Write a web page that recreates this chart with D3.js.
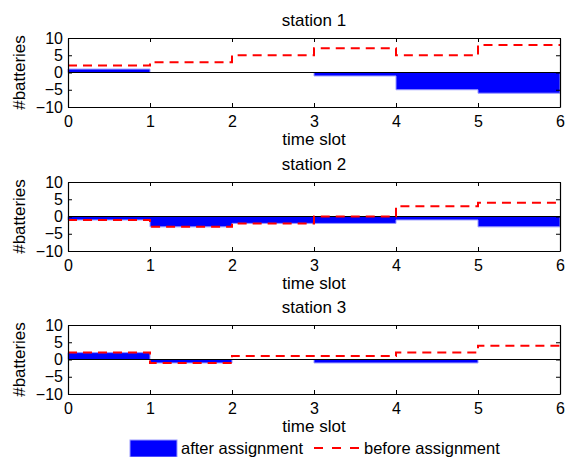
<!DOCTYPE html>
<html>
<head>
<meta charset="utf-8">
<script src="https://cdn.jsdelivr.net/npm/d3@7"></script>
<style>
  body { margin: 0; background: #fff; }
  svg { font-family: "Liberation Sans", Arial, sans-serif; }
</style>
</head>
<body>
<svg id="chart" width="566" height="457"></svg>
<script>
// data
const stations = ["station 1", "station 2", "station 3"];
const slots = [0, 1, 2, 3, 4, 5];
const afterAssign = [
  [1, 0, 0, -1, -5, -6],
  [-1, -3, -2, -2, -1, -3],
  [2, -1, 0, -1, -1, 0]
];
const beforeAssign = [
  [2, 3, 5, 7, 5, 8],
  [-1, -3, -2, 0, 3, 4],
  [2, -1, 1, 1, 2, 4]
];
const xTicks = [0, 1, 2, 3, 4, 5, 6];
const yTicks = [-10, -5, 0, 5, 10];
const legendLabels = ["after assignment", "before assignment"];

const left = 68, right = 560;
const panelTops = [38, 182, 325];
const panelH = 69;
const tickSize = 16;
const labelSize = 17;

const svg = d3.select("#chart");

const x = d3.scaleLinear().domain([0, 6]).range([left, right]);

// step data: repeat last value at x=6 so the stairs run to the edge
function steps(vals) {
  const pts = vals.map((v, i) => ({t: slots[i], v: v}));
  pts.push({t: 6, v: vals[vals.length - 1]});
  return pts;
}

stations.forEach(function(name, k) {
  const top = panelTops[k];
  const bottom = top + panelH;
  const y = d3.scaleLinear().domain([-10, 10]).range([bottom, top]);
  const g = svg.append("g");

  // blue area (stairs)
  const area = d3.area()
    .curve(d3.curveStepAfter)
    .x(d => x(d.t))
    .y0(y(0))
    .y1(d => y(d.v));
  g.append("path")
    .attr("d", area(steps(afterAssign[k])))
    .attr("fill", "#0000ff")
    .attr("stroke", "#9a9aff")
    .attr("stroke-width", 1);

  // baseline
  g.append("line")
    .attr("x1", x(0)).attr("x2", x(6))
    .attr("y1", y(0)).attr("y2", y(0))
    .attr("stroke", "#000")
    .attr("stroke-width", 1);

  // red dashed stairs
  const line = d3.line()
    .curve(d3.curveStepAfter)
    .x(d => x(d.t))
    .y(d => y(d.v));
  g.append("path")
    .attr("d", line(steps(beforeAssign[k])))
    .attr("fill", "none")
    .attr("stroke", "#ff0000")
    .attr("stroke-width", 2)
    .attr("stroke-dasharray", "9,6");

  // axes, ticks inside like matlab
  const xb = g.append("g")
    .attr("transform", `translate(0,${bottom})`)
    .call(d3.axisBottom(x).tickValues(xTicks).tickFormat(d3.format("d")).tickSizeInner(-4).tickSizeOuter(0).tickPadding(9));
  const xt = g.append("g")
    .attr("transform", `translate(0,${top})`)
    .call(d3.axisTop(x).tickValues(xTicks).tickFormat("").tickSizeInner(-4).tickSizeOuter(0));
  const yl = g.append("g")
    .attr("transform", `translate(${left},0)`)
    .call(d3.axisLeft(y).tickValues(yTicks).tickFormat(d => d < 0 ? "\u2212" + Math.abs(d) : d).tickSizeInner(-4).tickSizeOuter(0).tickPadding(5));
  const yr = g.append("g")
    .attr("transform", `translate(${right},0)`)
    .call(d3.axisRight(y).tickValues(yTicks).tickFormat("").tickSizeInner(-4).tickSizeOuter(0));

  [xb, xt, yl, yr].forEach(a => {
    a.selectAll(".domain").attr("stroke", "#000").attr("stroke-width", 1.2);
    a.selectAll("line").attr("stroke", "#000");
    a.selectAll("text")
      .attr("fill", "#000")
      .style("font-size", tickSize + "px")
      .style("font-family", "Liberation Sans, Arial, sans-serif");
  });

  // title
  g.append("text")
    .attr("x", (left + right) / 2)
    .attr("y", top - 12)
    .attr("text-anchor", "middle")
    .style("font-size", labelSize + "px")
    .text(name);

  // x label
  g.append("text")
    .attr("x", (left + right) / 2)
    .attr("y", bottom + 38)
    .attr("text-anchor", "middle")
    .style("font-size", labelSize + "px")
    .text("time slot");

  // y label
  g.append("text")
    .attr("text-anchor", "middle")
    .attr("transform", `translate(25 ${(top + bottom) / 2}) rotate(-90)`)
    .style("font-size", labelSize + "px")
    .text("#batteries");
});

// legend
const legend = svg.append("g");
legend.append("rect")
  .attr("x", 130).attr("y", 440)
  .attr("width", 47).attr("height", 17)
  .attr("fill", "#0000ff")
  .attr("stroke", "#9a9aff");
legend.append("text")
  .attr("x", 181).attr("y", 454)
  .style("font-size", "16.5px")
  .text(legendLabels[0]);
legend.append("line")
  .attr("x1", 314).attr("x2", 360)
  .attr("y1", 448).attr("y2", 448)
  .attr("stroke", "#ff0000")
  .attr("stroke-width", 2)
  .attr("stroke-dasharray", "9,9");
legend.append("text")
  .attr("x", 364).attr("y", 454)
  .style("font-size", "16.5px")
  .text(legendLabels[1]);
</script>
</body>
</html>
